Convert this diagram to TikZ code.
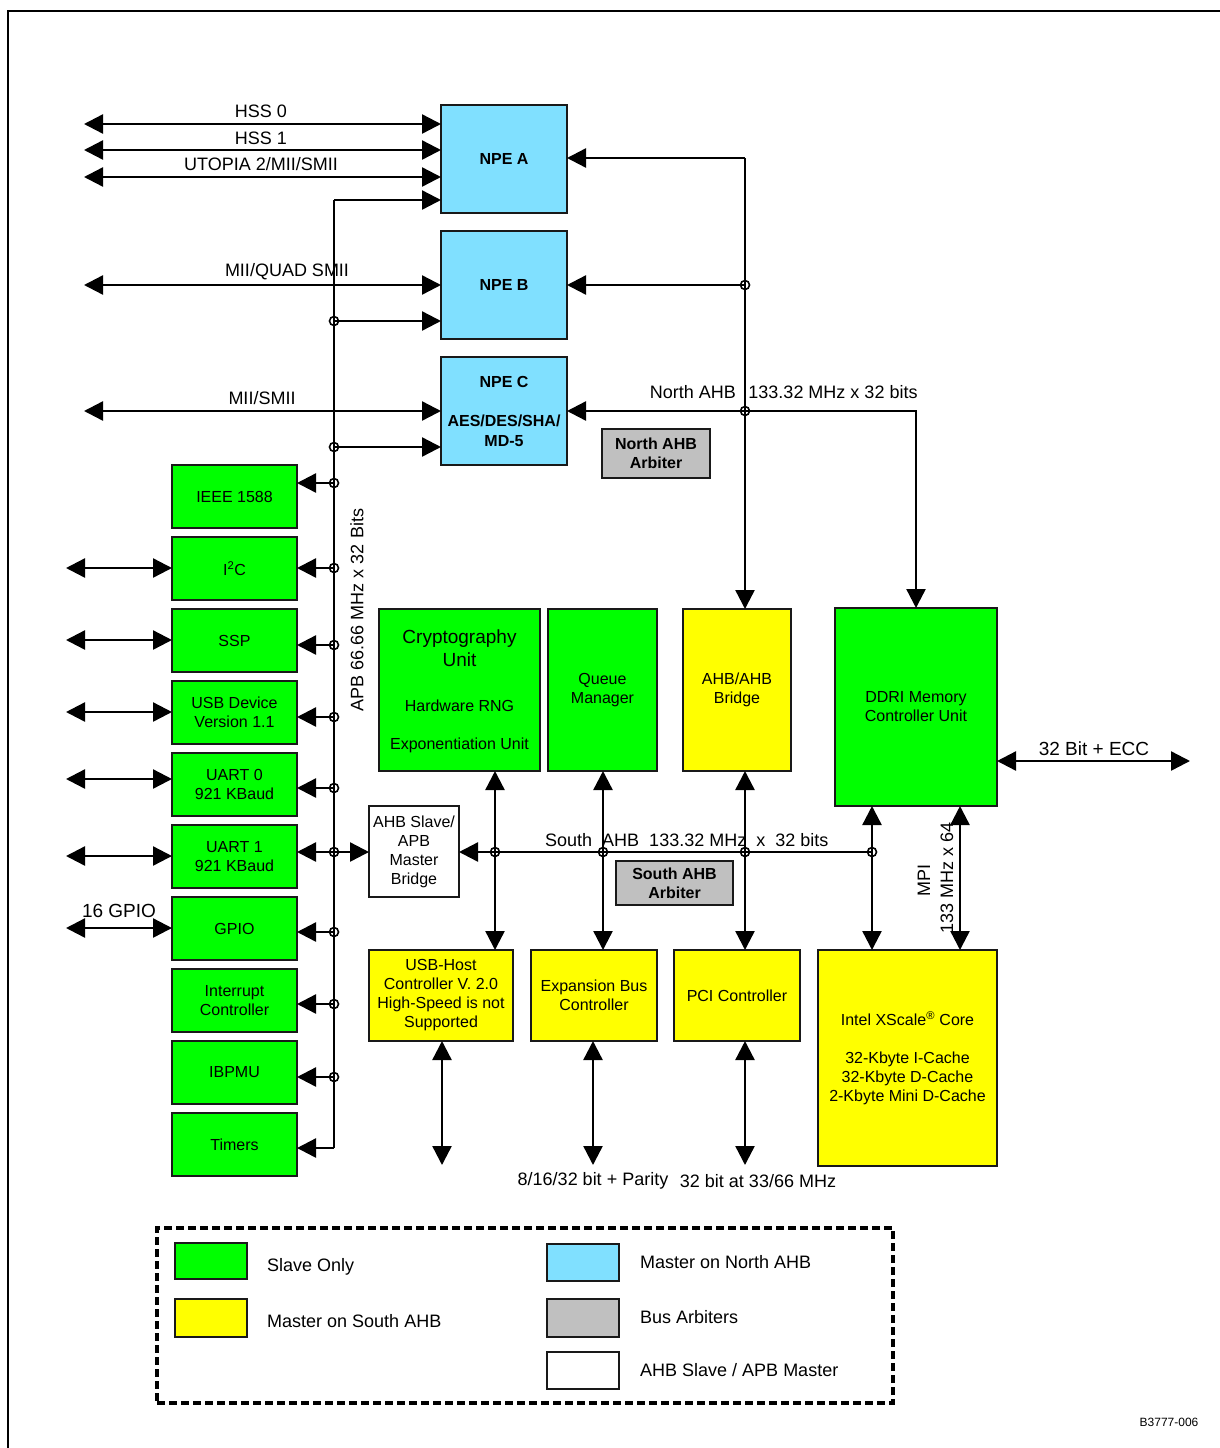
\documentclass[tikz,border=0pt]{standalone}
\usepackage{fontspec}
\setmainfont{Liberation Sans}
\usetikzlibrary{arrows.meta}
\definecolor{slgreen}{RGB}{0,255,0}
\definecolor{msyellow}{RGB}{255,255,0}
\definecolor{mnblue}{RGB}{128,224,255}
\definecolor{arbgray}{RGB}{192,192,192}
\begin{document}
\begin{tikzpicture}[x=1pt,y=-1pt,
  blk/.style={draw=black!90, line width=2.6pt, inner sep=0pt, outer sep=0pt, align=center, font=\fontsize{16}{19}\selectfont},
  gbox/.style={blk, fill=slgreen},
  lcol/.style={gbox, minimum width=125, minimum height=63},
  ybox/.style={blk, fill=msyellow},
  bbox/.style={blk, fill=mnblue, font=\bfseries\fontsize{16}{20}\selectfont, minimum width=126, minimum height=108},
  abox/.style={blk, fill=arbgray, font=\bfseries\fontsize{16}{19}\selectfont},
  wbox/.style={blk, fill=white},
  ln/.style={line width=2.4pt},
  arr/.style={ln, -{Triangle[length=19pt,width=19pt]}},
  dbl/.style={ln, {Triangle[length=19pt,width=19pt]}-{Triangle[length=19pt,width=19pt]}},
  jn/.style={circle, draw, line width=1.6pt, minimum size=9pt, inner sep=0pt},
  lbl/.style={inner sep=0pt, font=\fontsize{18}{21}\selectfont},
  btxt/.style={inner sep=0pt, align=center, font=\fontsize{16}{19}\selectfont},
]
\useasboundingbox (0,0) rectangle (1220,1448);
% frame
\coordinate (fTL) at (8,11);
\coordinate (fTR) at (1220,11);
\coordinate (fBL) at (8,1448);
\draw[line width=2pt] (fTR) -- (fTL) -- (fBL);

% NPE boxes
\node[bbox] (npeA) at (504,159) {NPE A};
\node[bbox] (npeB) at (504,285) {NPE B};
\node[bbox] (npeC) at (504,411) {NPE C\\[19pt]AES/DES/SHA/\\MD-5};
\node[abox, minimum width=108, minimum height=49] (narb) at (656,453.5) {North AHB\\Arbiter};

% left column
\node[lcol] (ieee) at (234.5,496.5) {IEEE 1588};
\node[lcol] (iic) at (234.5,568.5) {I\textsuperscript{2}C};
\node[lcol] (ssp) at (234.5,640.5) {SSP};
\node[lcol] (usbd) at (234.5,712.5) {USB Device\\Version 1.1};
\node[lcol] (uart0) at (234.5,784.5) {UART 0\\921 KBaud};
\node[lcol] (uart1) at (234.5,856.5) {UART 1\\921 KBaud};
\node[lcol] (gpio) at (234.5,928.5) {GPIO};
\node[lcol] (intc) at (234.5,1000.5) {Interrupt\\Controller};
\node[lcol] (ibpmu) at (234.5,1072.5) {IBPMU};
\node[lcol] (timers) at (234.5,1144.5) {Timers};

% bridge
\node[wbox, minimum width=90, minimum height=91] (brg) at (414,851.5) {AHB Slave/\\APB\\Master\\Bridge};

% middle row
\node[gbox, minimum width=161, minimum height=162] (crypto) at (459.5,690) {};
\node[btxt, font=\fontsize{19}{23}\selectfont] (cryT) at (459.5,648.5) {Cryptography\\Unit};
\node[btxt] (cryH) at (459.5,706) {Hardware RNG};
\node[btxt] (cryE) at (459.5,745) {Exponentiation Unit};
\node[gbox, minimum width=109, minimum height=162] (queue) at (602.5,690) {Queue\\Manager};
\node[ybox, minimum width=108, minimum height=162] (ahb) at (737,690) {AHB/AHB\\Bridge};
\node[gbox, minimum width=162, minimum height=198] (ddri) at (916,707) {DDRI Memory\\Controller Unit};
\node[abox, minimum width=117, minimum height=44] (sarb) at (674.5,883) {South AHB\\Arbiter};

% bottom row
\node[ybox, minimum width=144, minimum height=91] (usbh) at (441,995.5) {USB-Host\\Controller V. 2.0\\High-Speed is not\\Supported};
\node[ybox, minimum width=126, minimum height=91] (exp) at (594,995.5) {Expansion Bus\\Controller};
\node[ybox, minimum width=126, minimum height=91] (pci) at (737,995.5) {PCI Controller};
\node[ybox, minimum width=179, minimum height=216] (xsc) at (907.5,1058) {Intel XScale\textsuperscript{\textregistered} Core\\[19pt]32-Kbyte I-Cache\\32-Kbyte D-Cache\\2-Kbyte Mini D-Cache};

% NPE external links
\coordinate (h0) at (84,124);
\coordinate (h1) at (84,150);
\coordinate (ut) at (84,177);
\coordinate (mq) at (84,285);
\coordinate (ms) at (84,411);
\draw[dbl] (h0) -- (h0 -| npeA.west);
\draw[dbl] (h1) -- (h1 -| npeA.west);
\draw[dbl] (ut) -- (ut -| npeA.west);
\draw[dbl] (mq) -- (npeB.west);
\draw[dbl] (ms) -- (npeC.west);

% APB bus
\coordinate (apbT) at (334,200);
\coordinate (apbB) at (334,1148);
\draw[ln] (apbT) -- (apbB);
\draw[arr] (apbT) -- (apbT -| npeA.west);
\draw[arr] (apbB) -- (apbB -| timers.east);
\coordinate (pB) at (334,321);
\coordinate (pC) at (334,447);
\coordinate (p1) at (334,483);
\coordinate (p2) at (334,568);
\coordinate (p3) at (334,645);
\coordinate (p4) at (334,717);
\coordinate (p5) at (334,788);
\coordinate (p6) at (334,852);
\coordinate (p7) at (334,932);
\coordinate (p8) at (334,1004);
\coordinate (p9) at (334,1077);
\draw[arr] (pB) -- (pB -| npeB.west);
\draw[arr] (pC) -- (pC -| npeC.west);
\draw[arr] (p1) -- (p1 -| ieee.east);
\draw[arr] (p2) -- (p2 -| iic.east);
\draw[arr] (p3) -- (p3 -| ssp.east);
\draw[arr] (p4) -- (p4 -| usbd.east);
\draw[arr] (p5) -- (p5 -| uart0.east);
\draw[arr] (p6) -- (p6 -| uart1.east);
\draw[arr] (p6) -- (p6 -| brg.west);
\draw[arr] (p7) -- (p7 -| gpio.east);
\draw[arr] (p8) -- (p8 -| intc.east);
\draw[arr] (p9) -- (p9 -| ibpmu.east);

% left external links
\coordinate (x2) at (66,568);
\coordinate (x3) at (66,640);
\coordinate (x4) at (66,712);
\coordinate (x5) at (66,779);
\coordinate (x6) at (66,856);
\coordinate (x7) at (66,928);
\draw[dbl] (x2) -- (x2 -| iic.west);
\draw[dbl] (x3) -- (x3 -| ssp.west);
\draw[dbl] (x4) -- (x4 -| usbd.west);
\draw[dbl] (x5) -- (x5 -| uart0.west);
\draw[dbl] (x6) -- (x6 -| uart1.west);
\draw[dbl] (x7) -- (x7 -| gpio.west);

% North AHB
\coordinate (nT) at (745,158);
\coordinate (nBj) at (745,285);
\coordinate (nB) at (745,411);
\coordinate (nC) at (916,411);
\draw[ln] (nT) -- (nB);
\draw[arr] (nT) -- (nT -| npeA.east);
\draw[arr] (nB) -- (nB |- ahb.north);
\draw[arr] (nBj) -- (nBj -| npeB.east);
\draw[arr] (nB) -- (npeC.east);
\draw[arr] (nB) -- (nC) -- (nC |- ddri.north);

% South AHB
\coordinate (sR) at (872,852);
\coordinate (s1) at (495,852);
\coordinate (s2) at (603,852);
\coordinate (s3) at (745,852);
\coordinate (mpi) at (960,852);
\draw[arr] (sR) -- (sR -| brg.east);
\draw[dbl] (s1 |- crypto.south) -- (s1 |- usbh.north);
\draw[dbl] (s2 |- queue.south) -- (s2 |- exp.north);
\draw[dbl] (s3 |- ahb.south) -- (s3 |- pci.north);
\draw[dbl] (sR |- ddri.south) -- (sR |- xsc.north);
\draw[dbl] (mpi |- ddri.south) -- (mpi |- xsc.north);

% bottom external links
\coordinate (b1) at (442,1165);
\coordinate (b2) at (593,1165);
\coordinate (b3) at (745,1165);
\draw[dbl] (b1 |- usbh.south) -- (b1);
\draw[dbl] (b2 |- exp.south) -- (b2);
\draw[dbl] (b3 |- pci.south) -- (b3);
\coordinate (ecc) at (1190,761);
\draw[dbl] (ecc -| ddri.east) -- (ecc);

% junction circles
\foreach \c in {pB,pC,p1,p2,p3,p4,p5,p6,p7,p8,p9,nBj,nB,sR,s1,s2,s3}
  \node[jn] (j\c) at (\c) {};

% labels
\node[lbl] (lh0) at (261,111) {HSS 0};
\node[lbl] (lh1) at (261,138) {HSS 1};
\node[lbl] (lut) at (261,164) {UTOPIA 2/MII/SMII};
\node[lbl] (lmq) at (287,272) {MII/QUAD SMII};
\node[lbl] (lms) at (262,398) {MII/SMII};
\node[lbl] (lnA) at (693,392) {North AHB};
\node[lbl] (lnB) at (833,392) {133.32 MHz x 32 bits};
\node[lbl, rotate=90] (lapb) at (357,610) {APB 66.66 MHz x 32 Bits};
\node[lbl, anchor=west] (lsa) at (545,840) {South\ \ AHB\ \ 133.32 MHz\ \ x\ \ 32 bits};
\node[lbl, font=\fontsize{19}{22}\selectfont] (lgp) at (119,911) {16 GPIO};
\node[lbl, font=\fontsize{19}{22}\selectfont] (lecc) at (1094,749) {32 Bit + ECC};
\node[lbl, rotate=90] (lmpi) at (924,880) {MPI};
\node[lbl, rotate=90] (lmhz) at (947,878) {133 MHz x 64};
\node[lbl] (lpar) at (593,1181) {8/16/32 bit + Parity};
\node[lbl] (lpci) at (758,1181) {32 bit at 33/66 MHz};
\node[inner sep=0pt, font=\fontsize{12}{14}\selectfont] (code) at (1169,1422) {B3777-006};

% legend
\node[draw, line width=4pt, dash pattern=on 8pt off 4pt, minimum width=736, minimum height=175, inner sep=0pt] (legend) at (525,1315.5) {};
\node[blk, fill=slgreen, minimum width=72, minimum height=36] (lg1) at (211,1261) {};
\node[blk, fill=msyellow, minimum width=72, minimum height=38] (lg2) at (211,1318) {};
\node[blk, fill=mnblue, minimum width=72, minimum height=37] (lg3) at (583,1262.5) {};
\node[blk, fill=arbgray, minimum width=72, minimum height=38] (lg4) at (583,1318) {};
\node[blk, fill=white, minimum width=72, minimum height=37] (lg5) at (583,1370.5) {};
\node[lbl, anchor=west] (lt1) at (267,1267) {Slave Only};
\node[lbl, anchor=west] (lt2) at (267,1321) {Master on South AHB};
\node[lbl, anchor=west] (lt3) at (640,1262) {Master on North AHB};
\node[lbl, anchor=west] (lt4) at (640,1317) {Bus Arbiters};
\node[lbl, anchor=west] (lt5) at (640,1370) {AHB Slave / APB Master};
\end{tikzpicture}
\end{document}
